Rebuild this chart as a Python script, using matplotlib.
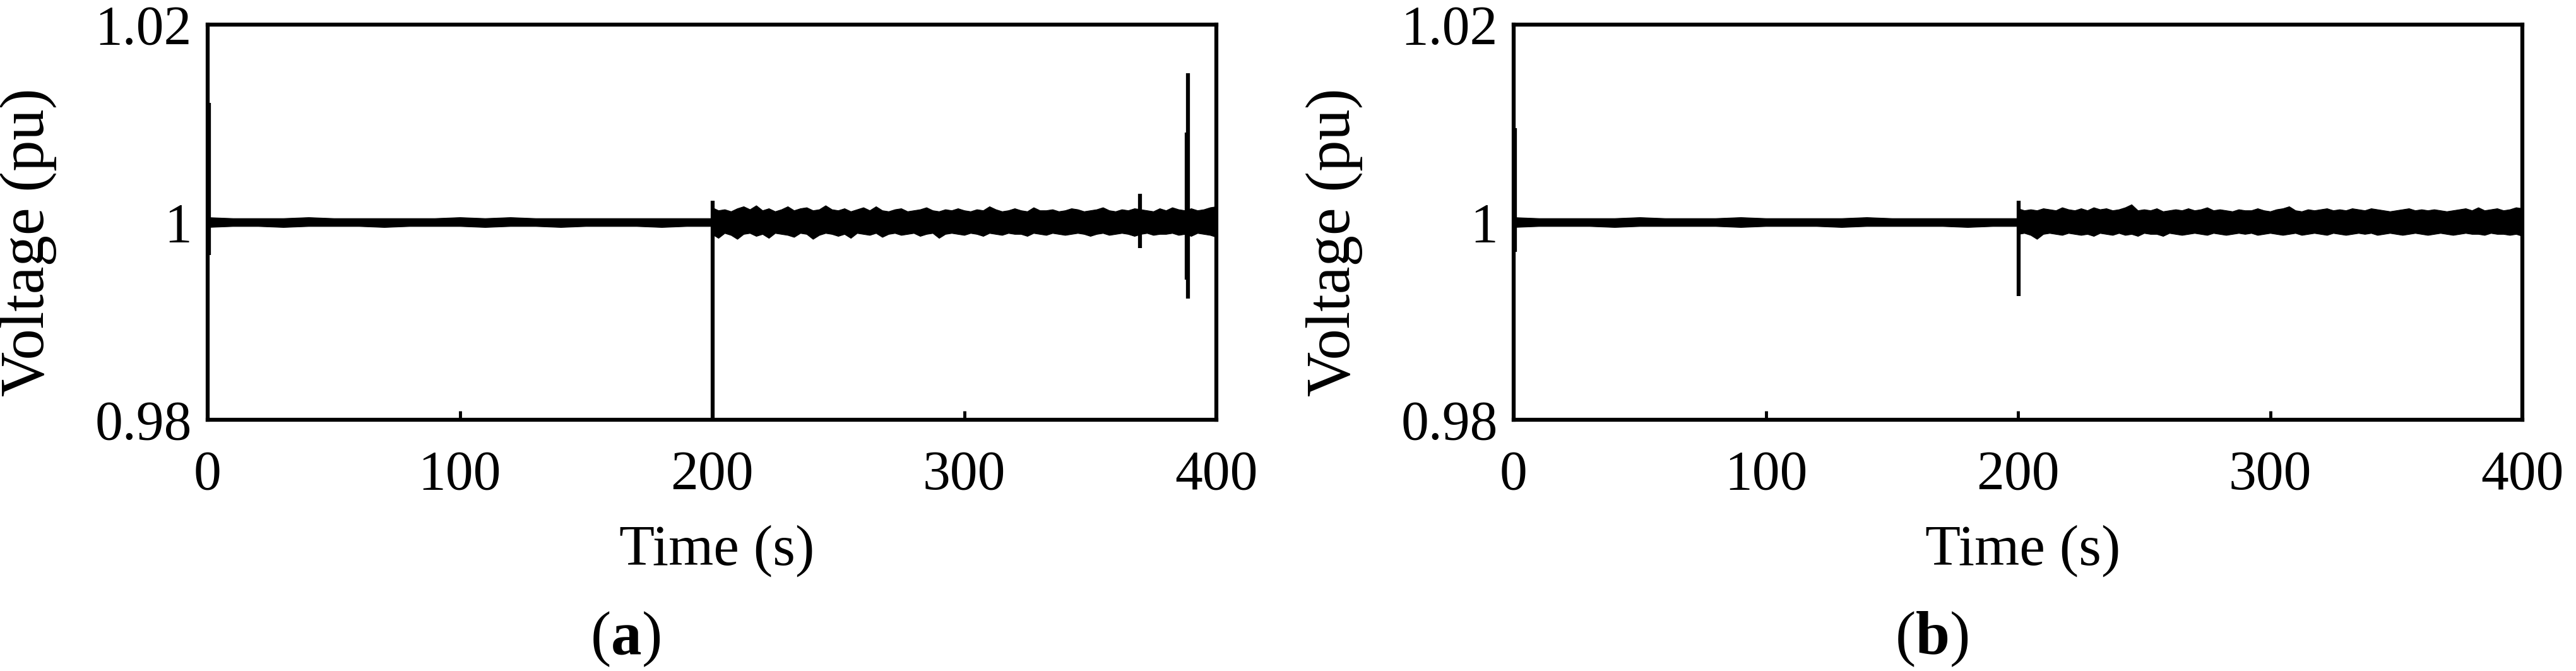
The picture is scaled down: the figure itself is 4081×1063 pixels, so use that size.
import numpy as np
import matplotlib
matplotlib.use("Agg")
import matplotlib.pyplot as plt

plt.rcParams['font.family'] = ['Liberation Serif', 'DejaVu Serif']
plt.rcParams['mathtext.fontset'] = 'custom'
plt.rcParams['mathtext.rm'] = 'Liberation Serif'
plt.rcParams['mathtext.bf'] = 'Liberation Serif:bold'

# envelope of the voltage trace, deviation from 1 pu in units of 1e-4 pu
# quiet part, 0-200 s (read every 10 s)
a_quiet_up = [5, 4, 4, 4, 5, 4, 4, 4, 4, 4, 5, 4, 5, 4, 4, 4, 4, 4, 4, 4, 4]
a_quiet_lo = [-5, -4, -4, -5, -4, -4, -4, -5, -4, -4, -4, -5, -4, -4, -5, -4, -4, -4, -5, -4, -4]
b_quiet_up = [5, 4, 4, 4, 4, 5, 4, 4, 4, 5, 4, 4, 4, 4, 5, 4, 4, 4, 4, 4, 4]
b_quiet_lo = [-5, -4, -4, -4, -5, -4, -4, -4, -4, -5, -4, -4, -4, -5, -4, -4, -4, -4, -5, -4, -4]

# noisy part, 200-400 s (read every 2.5 s)
a_noisy_up = [15, 12, 13, 11, 14, 16, 13, 17, 12, 14,
              11, 13, 16, 12, 14, 15, 12, 13, 17, 13,
              12, 14, 11, 13, 15, 12, 16, 12, 11, 13,
              14, 11, 12, 13, 15, 12, 11, 13, 12, 14,
              12, 11, 13, 12, 16, 13, 11, 12, 14, 12,
              11, 15, 12, 12, 13, 11, 12, 14, 13, 11,
              12, 13, 15, 12, 11, 13, 12, 14, 13, 12,
              11, 14, 12, 15, 13, 12, 14, 12, 13, 15,
              16]
a_noisy_lo = [-12, -16, -11, -13, -17, -12, -11, -14, -12, -16,
              -11, -12, -13, -15, -11, -12, -17, -13, -11, -12,
              -14, -12, -16, -11, -12, -13, -11, -15, -12, -11,
              -13, -12, -11, -14, -12, -11, -16, -12, -11, -12,
              -13, -11, -12, -14, -11, -12, -13, -11, -12, -12,
              -14, -11, -12, -13, -11, -12, -13, -12, -11, -12,
              -14, -12, -11, -13, -12, -11, -12, -14, -12, -11,
              -13, -12, -12, -11, -13, -12, -14, -11, -12, -13,
              -15]
b_noisy_up = [14, 12, 13, 12, 14, 13, 12, 15, 13, 12,
              14, 12, 15, 13, 14, 12, 13, 15, 18, 12,
              13, 12, 14, 11, 12, 13, 12, 14, 12, 13,
              15, 12, 13, 12, 11, 13, 12, 12, 14, 12,
              11, 13, 14, 16, 12, 11, 13, 12, 13, 14,
              12, 13, 12, 14, 13, 12, 14, 13, 12, 11,
              12, 13, 14, 12, 13, 12, 13, 12, 11, 12,
              13, 14, 12, 15, 12, 13, 14, 12, 13, 15,
              14]
b_noisy_lo = [-12, -11, -13, -17, -12, -11, -12, -13, -11, -12,
              -13, -12, -14, -11, -12, -13, -11, -13, -12, -14,
              -11, -12, -12, -14, -11, -12, -13, -12, -11, -12,
              -13, -11, -12, -13, -12, -11, -12, -11, -13, -12,
              -11, -12, -13, -12, -11, -13, -12, -11, -12, -13,
              -11, -12, -13, -12, -11, -12, -11, -13, -12, -11,
              -12, -13, -12, -11, -12, -13, -12, -11, -12, -13,
              -12, -11, -12, -12, -13, -11, -12, -12, -13, -12,
              -14]

# transients (time, min, max in pu)
a_spike_t = [0.6, 200.2, 369.7, 388.3, 388.7]
a_spike_lo = [0.9967, 0.978, 0.9974, 0.9942, 0.9923]
a_spike_hi = [1.0121, 1.0022, 1.0029, 1.0091, 1.0151]
b_spike_t = [0.6, 200.2]
b_spike_lo = [0.9970, 0.9925]
b_spike_hi = [1.0095, 1.0022]

xticks = [0, 100, 200, 300, 400]
yticks = [0.98, 1.0, 1.02]
ytick_labels = ['0.98', '1', '1.02']

W, H = 4081, 1063
fig = plt.figure(figsize=(W / 100, H / 100), dpi=100)


def draw(left, quiet_up, quiet_lo, noisy_up, noisy_lo, sp_t, sp_lo, sp_hi):
    ax = fig.add_axes([left / W, 1 - 665 / H, 1598 / W, 626 / H])
    tq = np.linspace(0, 200, len(quiet_up))
    ax.fill_between(tq, 1 + np.array(quiet_lo) * 1e-4, 1 + np.array(quiet_up) * 1e-4,
                    color='black', lw=0.8)
    tn = np.linspace(200, 400, len(noisy_up))
    ax.fill_between(tn, 1 + np.array(noisy_lo) * 1e-4, 1 + np.array(noisy_up) * 1e-4,
                    color='black', lw=0.8)
    ax.vlines(sp_t, sp_lo, sp_hi, color='black', lw=4.5)
    ax.set_xlim(0, 400)
    ax.set_ylim(0.98, 1.02)
    ax.set_xticks(xticks)
    ax.set_yticks(yticks)
    ax.set_yticklabels(ytick_labels)
    ax.tick_params(direction='in', length=10, width=3.5, labelsize=63)
    ax.tick_params(axis='x', pad=34)
    ax.tick_params(axis='y', pad=18)
    for s in ax.spines.values():
        s.set_linewidth(4.5)
    ax.set_xlabel('Time (s)', fontsize=66, va='center')
    ax.xaxis.set_label_coords(0.505, -0.331)
    ax.set_ylabel('Voltage (pu)', fontsize=71, va='center')
    ax.yaxis.set_label_coords(-0.178, 0.45)
    return ax


draw(329, a_quiet_up, a_quiet_lo, a_noisy_up, a_noisy_lo, a_spike_t, a_spike_lo, a_spike_hi)
draw(2398, b_quiet_up, b_quiet_lo, b_noisy_up, b_noisy_lo, b_spike_t, b_spike_lo, b_spike_hi)

fig.text(991 / W, 1 - 1013 / H, r'($\mathbf{a}$)', fontsize=70, ha='center', va='center')
fig.text(3060 / W, 1 - 1013 / H, r'($\mathbf{b}$)', fontsize=70, ha='center', va='center')

fig.savefig('out.png', dpi=100)
